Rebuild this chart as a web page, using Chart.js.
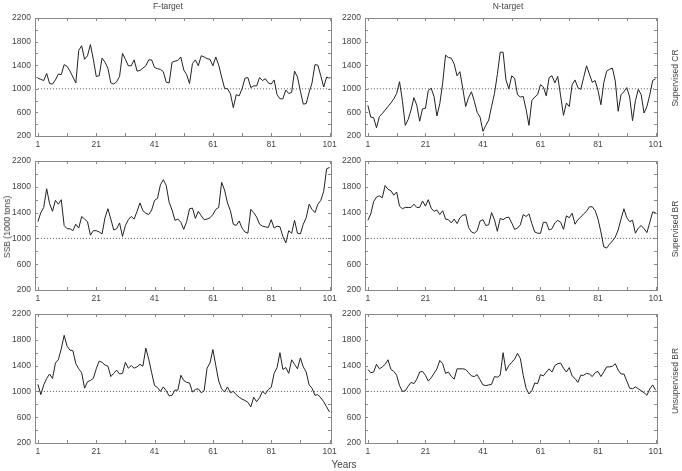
<!DOCTYPE html>
<html>
<head>
<meta charset="utf-8">
<script src="https://cdn.jsdelivr.net/npm/chart.js@4.4.1/dist/chart.umd.min.js"></script>
<style>
  html, body { margin: 0; padding: 0; background: #fff; }
  body { width: 682px; height: 471px; position: relative; overflow: hidden; font-family: "Liberation Sans", Arial, sans-serif; color: #444; }
  canvas { position: absolute; z-index: 1; }
  .lbl { position: absolute; z-index: 2; font-size: 8.5px; white-space: nowrap; transform: translate(-50%, -50%); }
  .rot { writing-mode: vertical-rl; transform: translate(-50%, -50%) rotate(180deg); }
</style>
</head>
<body>
<canvas id="c1" width="345" height="144" style="left:0;top:8px"></canvas>
<canvas id="c2" width="332" height="144" style="left:335px;top:8px"></canvas>
<canvas id="c3" width="345" height="155" style="left:0;top:151px"></canvas>
<canvas id="c4" width="332" height="155" style="left:335px;top:151px"></canvas>
<canvas id="c5" width="345" height="155" style="left:0;top:304px"></canvas>
<canvas id="c6" width="332" height="155" style="left:335px;top:304px"></canvas>

<div class="lbl" style="left:168px;top:6px">F-target</div>
<div class="lbl" style="left:508px;top:6px">N-target</div>
<div class="lbl rot" style="left:675px;top:78px">Supervised CR</div>
<div class="lbl rot" style="left:675px;top:229px">Supervised BR</div>
<div class="lbl rot" style="left:675px;top:381px">Unsupervised BR</div>
<div class="lbl rot" style="left:7px;top:227px">SSB (1000 tons)</div>
<div class="lbl" style="left:344px;top:464px;font-size:10px">Years</div>

<script>
// --- datos ---
const years = Array.from({ length: 101 }, (_, i) => i + 1);
const yearTicks = [1, 21, 41, 61, 81, 101];
const ssbTicks = [200, 600, 1000, 1400, 1800, 2200];
const referencia = 1000;

// F-target / Supervised CR
const fCR = [1180,1160,1140,1260,1090,1080,1150,1250,1240,1410,1380,1300,1200,1100,1650,1730,1500,1560,1750,1500,
  1210,1220,1520,1450,1350,1100,1080,1120,1210,1600,1500,1390,1390,1490,1300,1310,1350,1390,1490,1490,
  1360,1340,1330,1290,1110,1100,1450,1470,1480,1540,1320,1240,1090,1430,1490,1390,1560,1540,1510,1500,
  1390,1540,1400,1200,1010,1000,920,680,900,880,1000,1180,1190,1020,1050,1050,1190,1140,1170,1100,
  1080,1150,900,830,830,980,920,940,1300,1200,960,740,750,940,1100,1410,1400,1220,1030,1200,1180];
// N-target / Supervised CR
const nCR = [720,520,510,340,530,580,640,700,760,830,920,1120,800,380,480,640,850,720,450,660,
  670,970,1010,870,540,750,1100,1570,1530,1520,1420,1220,1290,1000,700,850,950,790,600,520,
  280,380,470,700,920,1240,1620,1620,1150,1000,1220,1180,900,860,870,650,380,800,860,900,
  1070,1030,880,1190,1220,1100,1210,880,550,760,700,1070,1150,1020,990,1190,1390,1250,1110,1140,
  970,730,1100,1300,1330,1350,1130,620,900,950,1020,860,460,800,990,900,590,700,900,1140,1170];
// F-target / Supervised BR
const fSBR = [1260,1400,1480,1770,1540,1420,1590,1530,1600,1200,1150,1150,1120,1220,1160,1340,1300,1260,1050,1120,
  1120,1100,1070,1320,1460,1300,1130,1150,1240,1030,1200,1290,1340,1300,1420,1550,1430,1390,1370,1440,
  1590,1620,1830,1910,1820,1560,1440,1280,1300,1250,1140,1260,1460,1470,1310,1420,1350,1290,1300,1320,
  1370,1450,1480,1870,1750,1550,1430,1220,1200,1270,1160,1100,1080,1450,1400,1330,1220,1190,1180,1170,
  1290,1160,1190,1180,1030,930,1120,1080,1280,1080,1070,1220,1320,1530,1450,1400,1530,1590,1730,2080,2100];
// N-target / Supervised BR
const nSBR = [1280,1380,1570,1640,1660,1630,1820,1760,1740,1670,1720,1500,1460,1480,1480,1480,1530,1480,1480,1580,
  1500,1600,1470,1420,1440,1370,1430,1300,1290,1240,1300,1230,1320,1360,1370,1170,1100,1080,1120,1270,
  1290,1200,1210,1400,1290,1110,1310,1290,1320,1330,1240,1140,1160,1210,1370,1340,1380,1230,1100,1080,
  1080,1250,1250,1130,1150,1240,1280,1250,1140,1350,1320,1390,1220,1290,1330,1380,1420,1490,1490,1430,
  1300,1100,870,850,910,960,1020,1130,1300,1460,1320,1260,1280,1080,1160,1200,1150,1090,1250,1410,1400];
// F-target / Unsupervised BR
const fUBR = [1110,950,1100,1200,1270,1200,1440,1490,1660,1870,1700,1640,1630,1430,1350,1290,1050,1150,1170,1200,
  1350,1470,1450,1410,1390,1230,1280,1330,1270,1280,1450,1360,1400,1360,1380,1420,1390,1670,1500,1290,
  1090,1060,1000,1070,1010,930,940,1020,1020,1250,1170,1140,1130,990,1030,1040,980,1010,1360,1440,
  1650,1400,1160,1040,990,1070,980,1000,950,910,880,860,830,760,910,840,900,1000,960,1030,
  1060,1280,1370,1600,1340,1370,1280,1490,1420,1350,1520,1380,1300,1100,1050,940,950,900,840,760,680];
// N-target / Unsupervised BR
const nUBR = [1340,1290,1300,1420,1350,1380,1420,1490,1340,1310,1250,1090,1000,1010,1080,1140,1120,1190,1300,1310,
  1250,1160,1210,1280,1350,1480,1430,1280,1300,1230,1190,1350,1350,1350,1340,1290,1240,1230,1260,1180,
  1100,1090,1100,1110,1230,1220,1250,1600,1320,1400,1450,1500,1590,1510,1250,1050,960,1010,1130,1120,
  1260,1240,1300,1350,1300,1400,1430,1440,1360,1300,1370,1240,1200,1140,1250,1250,1280,1270,1230,1290,
  1310,1230,1300,1380,1380,1390,1430,1330,1270,1270,1160,1050,1040,1070,1040,1010,980,940,1040,1100,1020];

// --- marco con marcas hacia dentro ---
const marcoPlugin = {
  id: 'marco',
  afterDatasetsDraw(chart) {
    const { ctx, chartArea: a, scales } = chart;
    ctx.save();
    ctx.strokeStyle = '#888';
    ctx.lineWidth = 1;
    ctx.strokeRect(Math.round(a.left) + 0.5, Math.round(a.top) + 0.5, Math.round(a.right - a.left), Math.round(a.bottom - a.top));
    ctx.beginPath();
    for (let v = 1; v <= 101; v += 10) {
      const px = Math.round(scales.x.getPixelForValue(v)) + 0.5;
      ctx.moveTo(px, a.bottom); ctx.lineTo(px, a.bottom - 3);
      ctx.moveTo(px, a.top); ctx.lineTo(px, a.top + 3);
    }
    for (let v = 400; v < 2200; v += 200) {
      const py = Math.round(scales.y.getPixelForValue(v)) + 0.5;
      ctx.moveTo(a.left, py); ctx.lineTo(a.left + 3, py);
      ctx.moveTo(a.right, py); ctx.lineTo(a.right - 3, py);
    }
    ctx.stroke();
    ctx.restore();
  }
};

const fuenteTicks = { family: 'Liberation Sans', size: 8.5 };

function crearPanel(id, valores, anchoY, padDer) {
  const serie = years.map((y, i) => ({ x: y, y: valores[i] }));
  const linea = [{ x: years[0], y: referencia }, { x: years[years.length - 1], y: referencia }];
  return new Chart(document.getElementById(id), {
    type: 'line',
    data: {
      datasets: [
        { data: serie, borderColor: '#222', borderWidth: 1, pointRadius: 0, tension: 0 },
        { data: linea, borderColor: '#555', borderWidth: 1, borderDash: [1, 2], pointRadius: 0 }
      ]
    },
    options: {
      responsive: false,
      animation: false,
      layout: { padding: { top: 10, right: padDer, left: 0, bottom: 0 } },
      plugins: { legend: { display: false }, tooltip: { enabled: false } },
      scales: {
        x: {
          type: 'linear', min: 0, max: 101.5,
          afterBuildTicks: s => { s.ticks = yearTicks.map(v => ({ value: v })); },
          afterFit: s => { s.height = 16; },
          grid: { display: false, drawTicks: false },
          border: { display: false },
          ticks: { padding: 4, maxRotation: 0, autoSkip: false, color: '#444', font: fuenteTicks, callback: v => String(v) }
        },
        y: {
          min: 200, max: 2200,
          afterBuildTicks: s => { s.ticks = ssbTicks.map(v => ({ value: v })); },
          afterFit: s => { s.width = anchoY; },
          grid: { display: false, drawTicks: false },
          border: { display: false },
          ticks: { padding: 4, color: '#444', font: fuenteTicks, callback: v => String(v) }
        }
      }
    },
    plugins: [marcoPlugin]
  });
}

crearPanel('c1', fCR, 35, 14);
crearPanel('c2', nCR, 30, 10);
crearPanel('c3', fSBR, 35, 14);
crearPanel('c4', nSBR, 30, 10);
crearPanel('c5', fUBR, 35, 14);
crearPanel('c6', nUBR, 30, 10);
</script>
</body>
</html>
